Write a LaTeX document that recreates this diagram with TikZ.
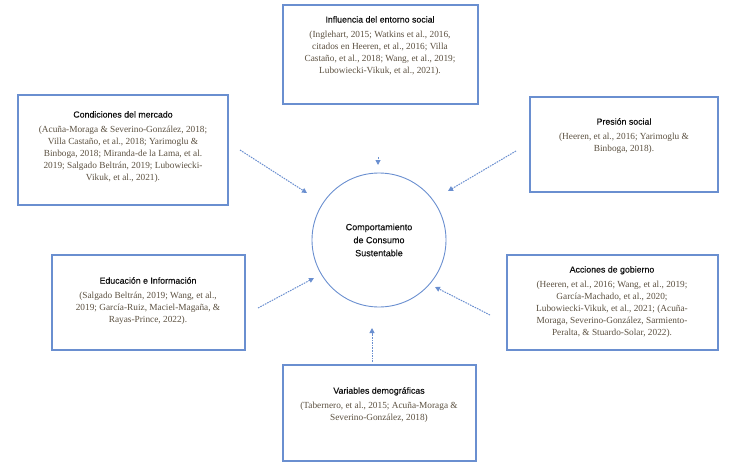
\documentclass[tikz,border=0pt]{standalone}
\usepackage{fontspec}
\setmainfont{Liberation Serif}
\newfontfamily\arialf{Liberation Sans}[FakeBold=0.35, BoldFont={Liberation Sans}]
\usetikzlibrary{arrows.meta}
\definecolor{boxblue}{HTML}{6A8FD0}
\definecolor{citecol}{HTML}{5B5040}
\definecolor{titlecol}{HTML}{101010}
\tikzset{
  boxrect/.style={draw=boxblue, line width=1.3pt},
  boxtext/.style={anchor=north, align=center, inner sep=0pt, font=\fontsize{9.3}{12}\selectfont, text=citecol},
  circnode/.style={draw=boxblue, line width=0.9pt, circle, minimum size=134pt, inner sep=0pt},
  flowarrow/.style={draw=boxblue, line width=1pt, dash pattern=on 1.6pt off 1pt, -{Triangle[length=5pt,width=5pt]}},
}
\newcommand{\ttl}[1]{{\arialf\bfseries\fontsize{8.8}{12}\selectfont\color{titlecol}#1}\\[2.5pt]}
\newcommand{\ctl}{\arialf\bfseries\fontsize{9}{13}\selectfont\color{titlecol}}
\begin{document}
\begin{tikzpicture}[x=1pt,y=-1pt]
\useasboundingbox (0,0) rectangle (736,468);
% boxes
\draw[boxrect] (283,5) rectangle (478,104);
\node (topbox) at (380.5,54.5) {};
\draw[boxrect] (18,95) rectangle (228,205);
\node (condbox) at (123,150) {};
\draw[boxrect] (530,97) rectangle (718,192);
\node (presbox) at (624,144.5) {};
\draw[boxrect] (52,255) rectangle (245,350);
\node (educbox) at (148.5,302.5) {};
\draw[boxrect] (507,255) rectangle (718,350);
\node (accbox) at (612.5,302.5) {};
\draw[boxrect] (283,365) rectangle (476,461);
\node (varbox) at (379.5,413) {};
% texts
\node[boxtext] (toptxt) at (380,16) {\ttl{Influencia del entorno social}(Inglehart, 2015; Watkins et al., 2016,\\citados en Heeren, et al., 2016; Villa\\Castaño, et al., 2018; Wang, et al., 2019;\\Lubowiecki-Vikuk, et al., 2021).};
\node[boxtext] (condtxt) at (123,111) {\ttl{Condiciones del mercado}(Acuña-Moraga \& Severino-González, 2018;\\Villa Castaño, et al., 2018; Yarimoglu \&\\Binboga, 2018; Miranda-de la Lama, et al.\\2019; Salgado Beltrán, 2019; Lubowiecki-\\Vikuk, et al., 2021).};
\node[boxtext] (prestxt) at (624,118) {\ttl{Presión social}(Heeren, et al., 2016; Yarimoglu \&\\Binboga, 2018).};
\node[boxtext] (eductxt) at (148,277) {\ttl{Educación e Información}(Salgado Beltrán, 2019; Wang, et al.,\\2019; García-Ruiz, Maciel-Magaña, \&\\Rayas-Prince, 2022).};
\node[boxtext] (acctxt) at (612,266) {\ttl{Acciones de gobierno}(Heeren, et al., 2016; Wang, et al., 2019;\\García-Machado, et al., 2020;\\Lubowiecki-Vikuk, et al., 2021; (Acuña-\\Moraga, Severino-González, Sarmiento-\\Peralta, \& Stuardo-Solar, 2022).};
\node[boxtext] (vartxt) at (379,387) {\ttl{Variables demográficas}(Tabernero, et al., 2015; Acuña-Moraga \&\\Severino-González, 2018)};
% circle
\node[circnode, align=center, font=\ctl] (circ) at (379,240) {\ctl Comportamiento\\\ctl de Consumo\\\ctl Sustentable};
% arrow end points
\coordinate (a1s) at (240,150); \coordinate (a1e) at (307,193);
\coordinate (a2s) at (516,151); \coordinate (a2e) at (448,191);
\coordinate (a3s) at (378,157); \coordinate (a3e) at (378,165);
\coordinate (a4s) at (258,308); \coordinate (a4e) at (314,278);
\coordinate (a5s) at (490,315); \coordinate (a5e) at (435,287);
\coordinate (a6s) at (372,362); \coordinate (a6e) at (372,328);
\draw[flowarrow] (a1s) -- (a1e);
\draw[flowarrow] (a2s) -- (a2e);
\draw[flowarrow] (a3s) -- (a3e);
\draw[flowarrow] (a4s) -- (a4e);
\draw[flowarrow] (a5s) -- (a5e);
\draw[flowarrow] (a6s) -- (a6e);
\end{tikzpicture}
\end{document}
